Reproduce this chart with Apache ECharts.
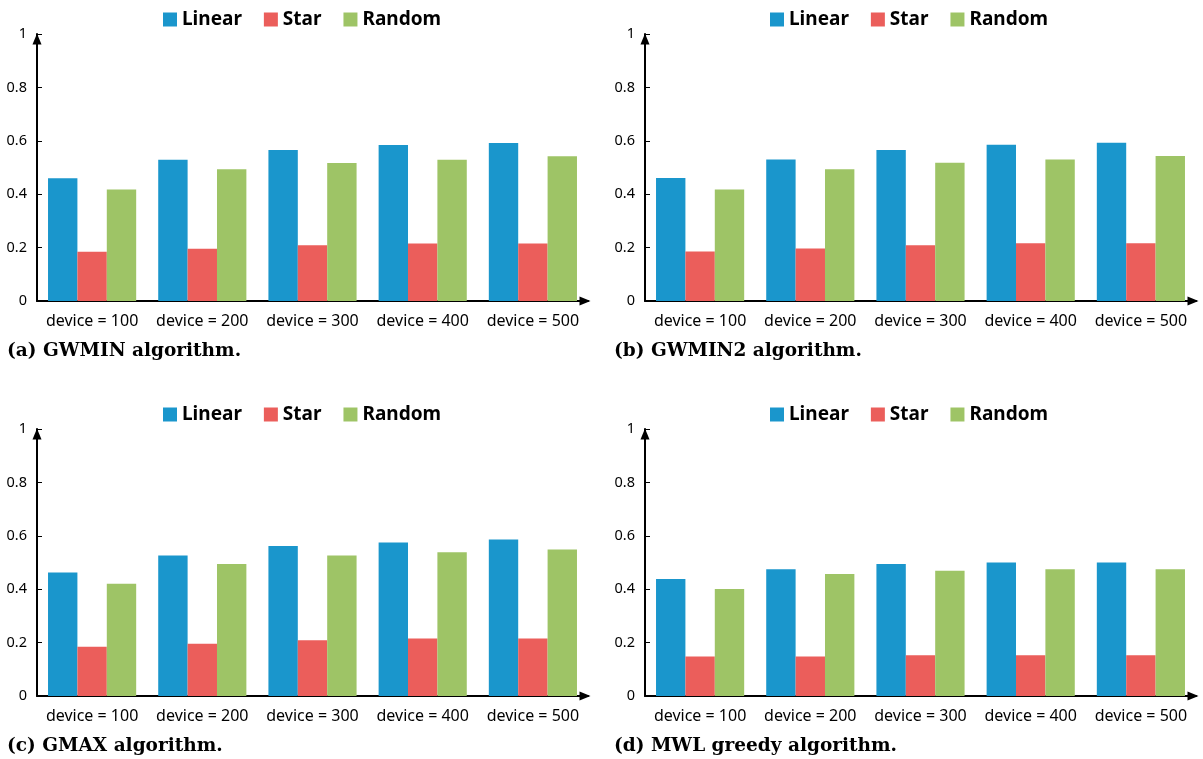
<!DOCTYPE html>
<html>
<head>
<meta charset="utf-8">
<script src="https://cdn.jsdelivr.net/npm/echarts@6/dist/echarts.min.js"></script>
<style>html,body{margin:0;padding:0;background:#fff}#c{width:1203px;height:759px}</style>
</head>
<body>
<div id="c"></div>
<script>
const categories = ['device = 100', 'device = 200', 'device = 300', 'device = 400', 'device = 500'];
const seriesNames = ['Linear', 'Star', 'Random'];
const yTicks = [0, 0.2, 0.4, 0.6, 0.8, 1];
const captions = ['(a) GWMIN algorithm.', '(b) GWMIN2 algorithm.', '(c) GMAX algorithm.', '(d) MWL greedy algorithm.'];

// (a) GWMIN
const gwminLinear = [0.460, 0.529, 0.566, 0.584, 0.592];
const gwminStar   = [0.184, 0.196, 0.209, 0.215, 0.215];
const gwminRandom = [0.418, 0.493, 0.517, 0.529, 0.542];
// (b) GWMIN2
const gwmin2Linear = [0.461, 0.530, 0.566, 0.585, 0.593];
const gwmin2Star   = [0.185, 0.197, 0.209, 0.216, 0.216];
const gwmin2Random = [0.418, 0.493, 0.518, 0.530, 0.543];
// (c) GMAX
const gmaxLinear = [0.463, 0.526, 0.562, 0.575, 0.586];
const gmaxStar   = [0.184, 0.196, 0.209, 0.215, 0.215];
const gmaxRandom = [0.420, 0.494, 0.526, 0.538, 0.549];
// (d) MWL greedy
const mwlLinear = [0.438, 0.475, 0.494, 0.500, 0.500];
const mwlStar   = [0.148, 0.148, 0.153, 0.153, 0.153];
const mwlRandom = [0.401, 0.457, 0.469, 0.475, 0.475];

const panels = [
  [gwminLinear, gwminStar, gwminRandom],
  [gwmin2Linear, gwmin2Star, gwmin2Random],
  [gmaxLinear, gmaxStar, gmaxRandom],
  [mwlLinear, mwlStar, mwlRandom]
];

const colors = ['#1A96CC', '#EB5E5B', '#9EC466'];
const gridPos = [
  {left: 37, top: 34, legendLeft: 163, legendTop: 10, capLeft: 7, capTop: 342},
  {left: 645, top: 34, legendLeft: 770, legendTop: 10, capLeft: 614, capTop: 342},
  {left: 37, top: 429, legendLeft: 163, legendTop: 405, capLeft: 7, capTop: 737},
  {left: 645, top: 429, legendLeft: 770, legendTop: 405, capLeft: 614, capTop: 737}
];
const GW = 551, GH = 267;

const chart = echarts.init(document.getElementById('c'), null, {renderer: 'canvas'});
const option = {
  animation: false,
  backgroundColor: '#fff',
  color: colors,
  grid: gridPos.map(g => ({left: g.left, top: g.top, width: GW, height: GH, containLabel: false})),
  legend: gridPos.map(g => ({
    left: g.legendLeft, top: g.legendTop, padding: 0, data: seriesNames,
    itemWidth: 14, itemHeight: 14, itemGap: 22, icon: 'rect',
    textStyle: {fontFamily: 'Noto Sans', fontWeight: 'bold', fontSize: 19, color: '#000'}
  })),
  xAxis: gridPos.map((g, i) => ({
    type: 'category', gridIndex: i, data: categories,
    axisLine: {show: true, symbol: ['none', 'triangle'], symbolSize: [9, 11], symbolOffset: [0, -3],
      lineStyle: {color: '#000', width: 2}},
    axisTick: {show: false},
    axisLabel: {fontFamily: 'Noto Sans', fontSize: 16, color: '#000', margin: 12, interval: 0}
  })),
  yAxis: gridPos.map((g, i) => ({
    type: 'value', gridIndex: i, min: yTicks[0], max: yTicks[yTicks.length - 1], interval: 0.2,
    axisLine: {show: true, symbol: ['none', 'triangle'], symbolSize: [9, 11], symbolOffset: [0, -5],
      lineStyle: {color: '#000', width: 2}},
    axisTick: {show: true, inside: true, length: 5, lineStyle: {color: '#000', width: 1}},
    splitLine: {show: false},
    axisLabel: {fontFamily: 'Noto Sans', fontSize: 14.5, color: '#000', margin: 10}
  })),
  series: [],
  graphic: gridPos.map((g, i) => ({
    type: 'text', left: g.capLeft, top: g.capTop,
    style: {text: captions[i], font: 'bold 18.5px "DejaVu Serif"', fill: '#000'}
  }))
};
panels.forEach((p, i) => {
  p.forEach((vals, k) => {
    option.series.push({
      type: 'bar', name: seriesNames[k], xAxisIndex: i, yAxisIndex: i, data: vals,
      barGap: '0%', barCategoryGap: '20%',
      itemStyle: {color: colors[k]}
    });
  });
});
chart.setOption(option);
</script>
</body>
</html>
